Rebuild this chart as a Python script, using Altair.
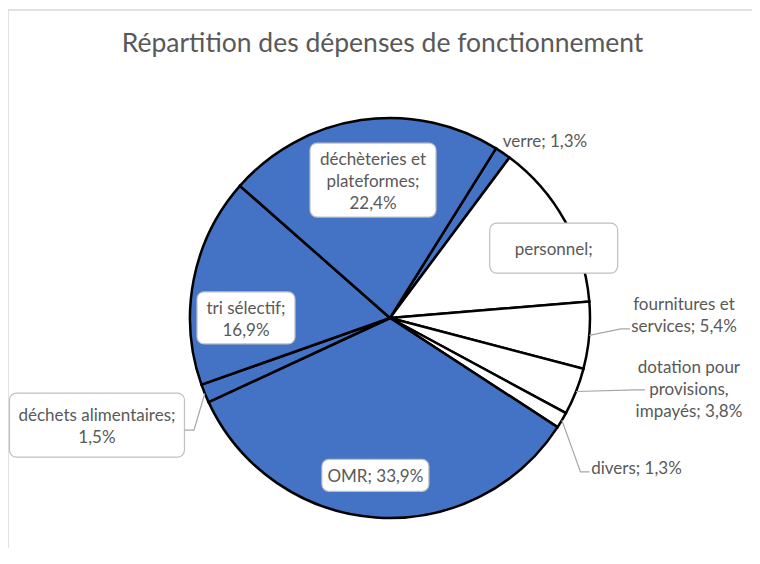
import math
import altair as alt
import pandas as pd

# ---------------- data ----------------
categories = [
    "verre", "personnel", "fournitures et services",
    "dotation pour provisions, impayés", "divers", "OMR",
    "déchets alimentaires", "tri sélectif", "déchèteries et plateformes",
]
values = [1.3, 13.5, 5.4, 3.8, 1.3, 33.9, 1.5, 16.9, 22.4]
label_texts = [
    "verre; 1,3%",
    "personnel;",
    "fournitures et\nservices; 5,4%",
    "dotation pour\nprovisions,\nimpayés; 3,8%",
    "divers; 1,3%",
    "OMR; 33,9%",
    "déchets alimentaires;\n1,5%",
    "tri sélectif;\n16,9%",
    "déchèteries et\nplateformes;\n22,4%",
]
slice_colors = ["#4472C4", "#FFFFFF", "#FFFFFF", "#FFFFFF", "#FFFFFF",
                "#4472C4", "#4472C4", "#4472C4", "#4472C4"]
title_text = "Répartition des dépenses de fonctionnement"

# ---------------- layout / style ----------------
W, H = 744, 540
CX, CY = 382, 310          # pie centre in chart pixels
R = 200                    # pie radius
START_DEG = 32             # angle of first slice
FONT = "Lato"
TXT = "#595959"
LABEL_SIZE = 17
LH = 22                    # label line height

# per-label placement: (radius factor, angle nudge deg, box (w,h) or None, leader end offset or None)
label_layout = {
    "verre": (1.18, 6.7, None, None),
    "personnel": (0.89, 5.9, (128, 50), None),
    "fournitures et services": (1.47, -5.8, None, (-54, 15)),
    "dotation pour provisions, impayés": (1.535, -8.4, None, (-44, 2)),
    "divers": (1.44, 0.4, None, (-47, 5)),
    "OMR": (0.79, 1.2, (107, 32), None),
    "déchets alimentaires": (1.56, 2.1, (175, 64), (88, 5)),
    "tri sélectif": (0.72, -10.9, (98, 52), None),
    "déchèteries et plateformes": (0.695, 1.3, (126, 74), None),
}

# ---------------- derived tables ----------------
total = sum(values)
rows, boxes, leaders = [], [], []
cum = 0.0
for i, (cat, v, lab, col) in enumerate(zip(categories, values, label_texts, slice_colors)):
    mid = START_DEG + (cum + v / 2) / total * 360
    cum += v
    rf, nudge, box, lead = label_layout[cat]
    a = math.radians(mid + nudge)
    lx, ly = rf * R * math.sin(a), -rf * R * math.cos(a)
    n_lines = lab.count("\n") + 1
    rows.append(dict(idx=i, cat=cat, value=v, color=col, label=lab,
                     lx=lx, ly=ly - (n_lines - 1) * LH / 2))
    if box:
        bw, bh = box
        boxes.append(dict(cat=cat, bx0=lx - bw / 2, bx1=lx + bw / 2, by0=ly - bh / 2, by1=ly + bh / 2))
    if lead:
        am = math.radians(mid)
        p0 = (R * math.sin(am), -R * math.cos(am))
        p2 = (lx + lead[0], ly + lead[1])
        step = -9 if p2[0] > 0 else 9
        p1 = (p2[0] + step, p2[1])
        for k, p in enumerate([p0, p1, p2]):
            leaders.append(dict(cat=cat, k=k, px=p[0], py=p[1]))

df = pd.DataFrame(rows)
df_box = pd.DataFrame(boxes)
df_lead = pd.DataFrame(leaders)

xs = alt.Scale(domain=[-CX, W - CX], nice=False, zero=False)
ys = alt.Scale(domain=[-CY, H - CY], nice=False, zero=False, reverse=True)

a0 = math.radians(START_DEG)
pie = alt.Chart(df).mark_arc(outerRadius=R, stroke="black", strokeWidth=2.5).encode(
    theta=alt.Theta("value:Q", stack=True, scale=alt.Scale(range=[a0, a0 + 2 * math.pi])),
    color=alt.Color("color:N", scale=None),
    order=alt.Order("idx:Q"),
    x=alt.value(CX),
    y=alt.value(CY),
)

lead_layer = alt.Chart(df_lead).mark_line(color="#a6a6a6", strokeWidth=1.2).encode(
    x=alt.X("px:Q", scale=xs, axis=None),
    y=alt.Y("py:Q", scale=ys, axis=None),
    detail="cat:N",
    order="k:Q",
)

box_layer = alt.Chart(df_box).mark_rect(
    cornerRadius=7, fill="white", stroke="#bfbfbf", strokeWidth=1.2
).encode(
    x=alt.X("bx0:Q", scale=xs, axis=None), x2="bx1:Q",
    y=alt.Y("by0:Q", scale=ys, axis=None), y2="by1:Q",
)

text_layer = alt.Chart(df).mark_text(
    font=FONT, fontSize=LABEL_SIZE, color=TXT, lineBreak="\n", lineHeight=LH,
    align="center", baseline="middle", dy=2,
).encode(
    x=alt.X("lx:Q", scale=xs, axis=None),
    y=alt.Y("ly:Q", scale=ys, axis=None),
    text="label:N",
)

frame_df = pd.DataFrame({"f": [0]})
top_rule = alt.Chart(frame_df).mark_rule(color="#d9d9d9", strokeWidth=1.5).encode(
    x=alt.value(0), x2=alt.value(W), y=alt.value(2))
left_rule = alt.Chart(frame_df).mark_rule(color="#d9d9d9", strokeWidth=1.5).encode(
    x=alt.value(0), y=alt.value(2), y2=alt.value(H))

title = alt.Chart(pd.DataFrame({"t": [title_text]})).mark_text(
    font=FONT, fontSize=26.5, color=TXT, align="center", baseline="alphabetic"
).encode(x=alt.value(374.5), y=alt.value(44), text="t:N")

chart = alt.layer(
    top_rule, left_rule, pie, lead_layer, box_layer, text_layer, title
).properties(
    width=W, height=H, padding=0, autosize=alt.AutoSizeParams(type="none"),
    background="white",
).configure_view(stroke=None)

chart.save("out.html", embed_options={"renderer": "svg", "actions": False})
